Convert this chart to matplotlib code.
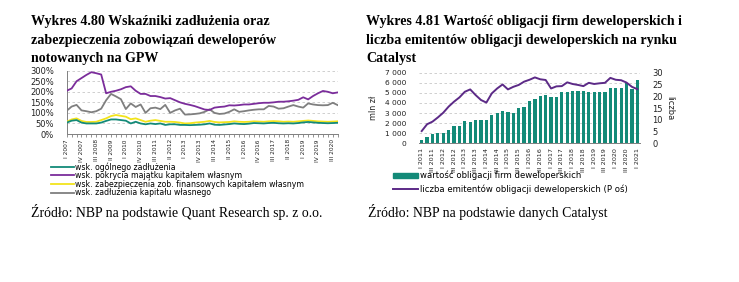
import matplotlib
matplotlib.use('Agg')
import matplotlib.pyplot as plt
from matplotlib.lines import Line2D
from matplotlib.patches import Patch

W, H = 739, 282
fig = plt.figure(figsize=(W / 100, H / 100), dpi=100)

def fx(x):
    return x / W

def fy(y):
    return 1 - y / H

SMALL = ['DejaVu Sans']
SERIF = ['Liberation Serif', 'DejaVu Serif']

# ---------------- Left chart data (quarterly I 2007 - IV 2020) ----------------
roman = ['I', 'II', 'III', 'IV']
left_quarters = [f'{r} {y}' for y in range(2007, 2021) for r in roman]
ogolnego = [54, 63, 66, 54, 50, 50, 50, 54, 62, 69, 69, 66, 63, 50, 58, 50, 46, 50, 47, 50,
            43, 46, 46, 43, 43, 42, 43, 44,
            46, 50, 44, 43, 45, 47, 50, 48, 47, 49, 52, 51, 50, 52, 53, 51, 50, 51, 50, 52,
            55, 57, 55, 53, 52, 51, 52, 53]
pokrycia = [205, 216, 250, 265, 280, 293, 288, 282, 193, 200, 205, 212, 222, 226, 205, 190,
            190, 180, 180, 175, 168, 170, 160, 150, 143, 138, 132, 124,
            116, 114, 125, 128, 130, 136, 135, 137, 140, 140, 143, 146, 148, 148, 150, 153,
            153, 155, 158, 162, 174, 164, 180, 193, 204, 200, 193, 197]
zabezpieczenia = [58, 69, 74, 62, 57, 57, 58, 66, 74, 85, 90, 86, 82, 70, 74, 66, 58, 63, 66, 62,
                  58, 58, 57, 54, 50, 51, 54, 56,
                  58, 62, 57, 55, 56, 57, 60, 58, 57, 58, 60, 59, 58, 60, 61, 60, 58, 59, 58, 60,
                  62, 64, 62, 60, 59, 58, 59, 60]
zadluzenia_kap = [110, 130, 138, 112, 108, 103, 108, 120, 160, 190, 178, 165, 118, 145, 128, 140,
                  100, 122, 125, 118, 138, 100, 112, 120,
                  92, 93, 95, 98, 105, 117, 100, 95, 97, 105, 117, 105, 108, 112, 115, 117, 117,
                  133, 130, 120, 122, 130, 137, 130, 125, 145, 140, 137, 136, 137, 148, 137]
left_names = ['wsk. ogólnego zadłużenia',
              'wsk. pokrycia majątku kapitałem własnym',
              'wsk. zabezpieczenia zob. finansowych kapitałem własnym',
              'wsk. zadłużenia kapitału własnego']
left_colors = ['#138a78', '#7b2d9b', '#f2e41c', '#7f7f7f']
left_yticks = [0, 50, 100, 150, 200, 250, 300]

# ---------------- Right chart data (quarterly I 2011 - I 2021) ----------------
right_quarters = [f'{r} {y}' for y in range(2011, 2021) for r in roman] + ['I 2021']
wartosc = [330, 660, 920, 1020, 1020, 1320, 1720, 1750, 2180, 2150, 2310, 2310, 2280, 2800,
           2970, 3230, 3100, 3040, 3470, 3630, 4160, 4360, 4690, 4750, 4620, 4550, 5050, 5115,
           5150, 5180, 5150, 5115, 5050, 5050, 5080, 5510, 5450, 5450, 5950, 5350, 6270]
liczba = [5.2, 8.1, 9.2, 11.0, 13.0, 15.6, 17.7, 19.5, 21.9, 22.9, 20.5, 18.4, 17.3, 21.2,
          23.3, 25.0, 22.9, 24.0, 24.8, 26.2, 27.0, 28.0, 27.2, 26.9, 23.3, 24.2, 24.3, 25.9,
          25.2, 24.8, 24.3, 25.7, 25.2, 25.5, 25.7, 27.8, 27.0, 26.8, 25.8, 24.0, 23.0]
right_names = ['wartość obligacji firm deweloperskich',
               'liczba emitentów obligacji deweloperskich (P oś)']
bar_color = '#138a78'
line_color = '#5c2a87'
right_yticks = [0, 1000, 2000, 3000, 4000, 5000, 6000, 7000]
right_y2ticks = [0, 5, 10, 15, 20, 25, 30]

left_title = ['Wykres 4.80 Wskaźniki zadłużenia oraz',
              'zabezpieczenia zobowiązań deweloperów',
              'notowanych na GPW']
right_title = ['Wykres 4.81 Wartość obligacji firm deweloperskich i',
               'liczba emitentów obligacji deweloperskich na rynku',
               'Catalyst']

grid_kw = dict(color='#c8c8c8', lw=0.6, ls=(0, (3, 3)))
TXT = '#222222'

# ---------------- Titles and sources ----------------
for i, line in enumerate(left_title):
    fig.text(fx(31), fy(22 + 18.3 * i), line, family=SERIF, weight='bold',
             fontsize=10.1, va='center', ha='left')
for i, line in enumerate(right_title):
    fig.text(fx(366), fy(22 + 18.3 * i), line, family=SERIF, weight='bold',
             fontsize=10.1, va='center', ha='left')
fig.text(fx(31), fy(212), 'Źródło: NBP na podstawie Quant Research sp. z o.o.',
         family=SERIF, fontsize=9.9, va='center', ha='left')
fig.text(fx(368), fy(212), 'Źródło: NBP na podstawie danych Catalyst',
         family=SERIF, fontsize=9.9, va='center', ha='left')

# ---------------- Left chart ----------------
axL = fig.add_axes([fx(66.7), fy(134), fx(337.7) - fx(66.7), fy(70.7) - fy(134)])
xs = list(range(len(left_quarters)))
axL.plot(xs, zabezpieczenia, color=left_colors[2], lw=1.3, zorder=3)
axL.plot(xs, ogolnego, color=left_colors[0], lw=1.3, zorder=4)
axL.plot(xs, zadluzenia_kap, color=left_colors[3], lw=1.3, zorder=3)
axL.plot(xs, pokrycia, color=left_colors[1], lw=1.3, zorder=3)
axL.set_xlim(0, len(xs) - 1)
axL.set_ylim(0, 300)
axL.set_yticks(left_yticks)
axL.set_yticklabels([f'{v}%' for v in left_yticks], family=SMALL, fontsize=6, color=TXT)
for v in left_yticks[1:]:
    axL.axhline(v, **grid_kw, zorder=1)
axL.set_xticks(xs[::3])
axL.set_xticklabels(left_quarters[::3], rotation=90, family=SMALL, fontsize=4.2, color=TXT)
axL.set_xticks(xs, minor=True)
axL.tick_params(axis='x', which='both', length=2.5, width=0.6, color='#808080', pad=1.2)
axL.tick_params(axis='y', length=0, pad=9)
for s in ['top', 'right']:
    axL.spines[s].set_visible(False)
for s in ['left', 'bottom']:
    axL.spines[s].set_color('#808080')
    axL.spines[s].set_linewidth(0.7)

handlesL = [Line2D([0], [0], color=c, lw=1.3) for c in left_colors]
fig.legend(handlesL, left_names, loc='upper left', bbox_to_anchor=(fx(51), fy(162)),
           frameon=False, prop={'family': SMALL, 'size': 5.6}, handlelength=3.0,
           handletextpad=0.12, labelspacing=-0.05, borderpad=0, borderaxespad=0)

# ---------------- Right chart ----------------
axR = fig.add_axes([fx(419), fy(143.3), fx(640) - fx(419), fy(72.7) - fy(143.3)])
xr = list(range(len(right_quarters)))
axR.bar(xr, wartosc, width=0.6, color=bar_color, zorder=3)
axR.set_xlim(-0.5, len(xr) - 0.5)
axR.set_ylim(0, 7000)
axR.set_yticks(right_yticks)
axR.set_yticklabels([f'{v:,}'.replace(',', ' ') for v in right_yticks], family=SMALL,
                    fontsize=5.4, color=TXT)
for v in right_yticks[1:]:
    axR.axhline(v, **grid_kw, zorder=1)
axR.set_xticks(xr[::2])
axR.set_xticklabels(right_quarters[::2], rotation=90, family=SMALL, fontsize=4.6, color=TXT)
axR.tick_params(axis='x', length=0, pad=3.5)
axR.tick_params(axis='y', length=0, pad=9)
for s in ['top', 'right', 'left']:
    axR.spines[s].set_visible(False)
axR.spines['bottom'].set_color('#808080')
axR.spines['bottom'].set_linewidth(0.7)
axR.set_ylabel('mln zł', family=SMALL, fontsize=5.8, labelpad=5, color=TXT)

axR2 = axR.twinx()
axR2.plot(xr, liczba, color=line_color, lw=1.4, zorder=4)
axR2.set_ylim(0, 30)
axR2.set_yticks(right_y2ticks)
axR2.set_yticklabels([str(v) for v in right_y2ticks], family=SMALL, fontsize=6, color=TXT)
axR2.tick_params(axis='y', length=0, pad=9)
for s in ['top', 'right', 'left', 'bottom']:
    axR2.spines[s].set_visible(False)
axR2.set_ylabel('liczba', family=SMALL, fontsize=6, rotation=-90, labelpad=8, color=TXT)

handlesR = [Patch(color=bar_color), Line2D([0], [0], color=line_color, lw=1.4)]
fig.legend(handlesR, right_names, loc='upper left', bbox_to_anchor=(fx(393), fy(171)),
           frameon=False, prop={'family': SMALL, 'size': 6.1}, handlelength=3.0,
           handleheight=0.45, handletextpad=0.2, labelspacing=0.45, borderpad=0,
           borderaxespad=0)

fig.savefig('out.png', dpi=100)
